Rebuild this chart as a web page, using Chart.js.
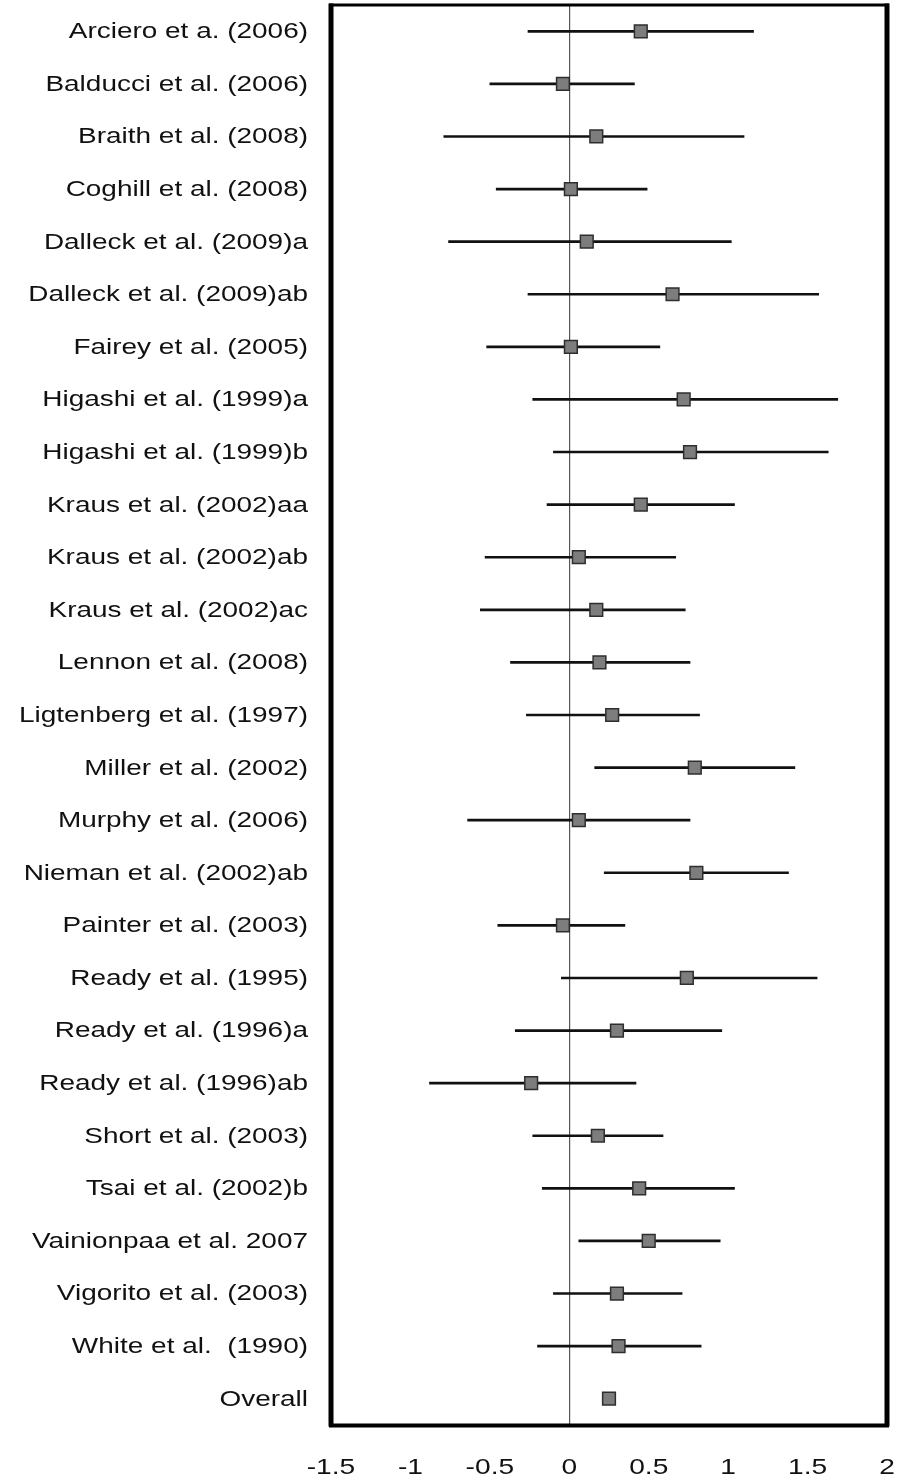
<!DOCTYPE html>
<html>
<head>
<meta charset="utf-8">
<title>Forest plot</title>
<script src="https://cdn.jsdelivr.net/npm/chart.js@4.4.1/dist/chart.umd.min.js"></script>
<style>
  html, body { margin: 0; padding: 0; background: #fff; }
  #wrap { width: 902px; height: 1482px; }
</style>
</head>
<body>
<div id="wrap"><canvas id="forest"></canvas></div>
<script>
// Study labels, top to bottom
const studies = [
  'Arciero et a. (2006)', 'Balducci et al. (2006)', 'Braith et al. (2008)',
  'Coghill et al. (2008)', 'Dalleck et al. (2009)a', 'Dalleck et al. (2009)ab',
  'Fairey et al. (2005)', 'Higashi et al. (1999)a', 'Higashi et al. (1999)b',
  'Kraus et al. (2002)aa', 'Kraus et al. (2002)ab', 'Kraus et al. (2002)ac',
  'Lennon et al. (2008)', 'Ligtenberg et al. (1997)', 'Miller et al. (2002)',
  'Murphy et al. (2006)', 'Nieman et al. (2002)ab', 'Painter et al. (2003)',
  'Ready et al. (1995)', 'Ready et al. (1996)a', 'Ready et al. (1996)ab',
  'Short et al. (2003)', 'Tsai et al. (2002)b', 'Vainionpaa et al. 2007',
  'Vigorito et al. (2003)', 'White et al.  (1990)', 'Overall'
]

// Effect size per study
const estimates = [
  0.45, -0.04, 0.17, 0.01, 0.11, 0.65, 0.01, 0.72, 0.76,
  0.45, 0.06, 0.17, 0.19, 0.27, 0.79, 0.06, 0.80, -0.04,
  0.74, 0.30, -0.24, 0.18, 0.44, 0.50, 0.30, 0.31, 0.25
]

// Confidence interval bounds (no interval drawn for the overall estimate)
const lower = [
  -0.26, -0.50, -0.79, -0.46, -0.76, -0.26, -0.52, -0.23, -0.10,
  -0.14, -0.53, -0.56, -0.37, -0.27, 0.16, -0.64, 0.22, -0.45,
  -0.05, -0.34, -0.88, -0.23, -0.17, 0.06, -0.10, -0.20, null
]
const upper = [
  1.16, 0.41, 1.10, 0.49, 1.02, 1.57, 0.57, 1.69, 1.63,
  1.04, 0.67, 0.73, 0.76, 0.82, 1.42, 0.76, 1.38, 0.35,
  1.56, 0.96, 0.42, 0.59, 1.04, 0.95, 0.71, 0.83, null
]

const xTicks = [-1.5, -1, -0.5, 0, 0.5, 1, 1.5, 2]

const intervals = lower.map((lo, i) => (lo === null ? null : [lo, upper[i]]))

const FONT = '"Liberation Sans", Arial, sans-serif'
const STRETCH = 1.3

// Draws the frame and the (horizontally widened) axis labels
const frameAndLabels = {
  id: 'frameAndLabels',
  afterDraw(chart) {
    const { ctx, chartArea: a, scales } = chart
    ctx.save()
    ctx.fillStyle = '#000'
    // frame: vertical sides a bit heavier than horizontal ones
    ctx.fillRect(a.left - 2, a.top - 1.5, a.right - a.left + 4, 3)
    ctx.fillRect(a.left - 2, a.bottom - 1.5, a.right - a.left + 4, 4)
    ctx.fillRect(a.left - 2.5, a.top - 1.5, 5, a.bottom - a.top + 3)
    ctx.fillRect(a.right - 2.5, a.top - 1.5, 5, a.bottom - a.top + 3)

    // study labels
    ctx.fillStyle = '#111'
    ctx.font = '21.5px ' + FONT
    ctx.textAlign = 'right'
    ctx.textBaseline = 'middle'
    chart.data.labels.forEach((lab, i) => {
      const y = scales.y.getPixelForTick(i)
      ctx.save()
      ctx.translate(a.left - 23, y + 1)
      ctx.scale(STRETCH, 1)
      ctx.fillText(lab, 0, 0)
      ctx.restore()
    })

    // x tick labels
    ctx.font = '22px ' + FONT
    ctx.textAlign = 'center'
    xTicks.forEach(v => {
      const x = scales.x.getPixelForValue(v)
      ctx.save()
      ctx.translate(x, a.bottom + 43)
      ctx.scale(1.28, 1)
      ctx.fillText(String(v), 0, 0)
      ctx.restore()
    })
    ctx.restore()
  }
}

new Chart(document.getElementById('forest'), {
  type: 'bar',
  data: {
    labels: studies,
    datasets: [
      {
        type: 'line',
        label: 'Effect size',
        data: estimates,
        order: 0,
        showLine: false,
        pointStyle: 'rect',
        pointRadius: 9,
        pointBackgroundColor: '#7d7d7d',
        pointBorderColor: '#2e2e2e',
        pointBorderWidth: 1.5
      },
      {
        type: 'bar',
        label: '95% CI',
        data: intervals,
        order: 1,
        backgroundColor: '#111',
        borderWidth: 0,
        barThickness: 2
      }
    ]
  },
  options: {
    indexAxis: 'y',
    responsive: true,
    maintainAspectRatio: false,
    animation: false,
    layout: { autoPadding: false, padding: { top: 5, right: 15, left: 0, bottom: 0 } },
    plugins: {
      legend: { display: false },
      tooltip: { enabled: false }
    },
    scales: {
      x: {
        type: 'linear',
        min: -1.5,
        max: 2,
        ticks: { display: false, stepSize: 0.5 },
        grid: {
          drawTicks: false,
          lineWidth: 1.2,
          color: c => (c.tick && c.tick.value === 0 ? '#555' : 'rgba(0,0,0,0)')
        },
        border: { display: false },
        afterFit: s => { s.height = 57 }
      },
      y: {
        type: 'category',
        offset: true,
        ticks: { display: false },
        grid: { display: false, drawTicks: false },
        border: { display: false },
        afterFit: s => { s.width = 331 }
      }
    }
  },
  plugins: [frameAndLabels]
})
</script>
</body>
</html>
